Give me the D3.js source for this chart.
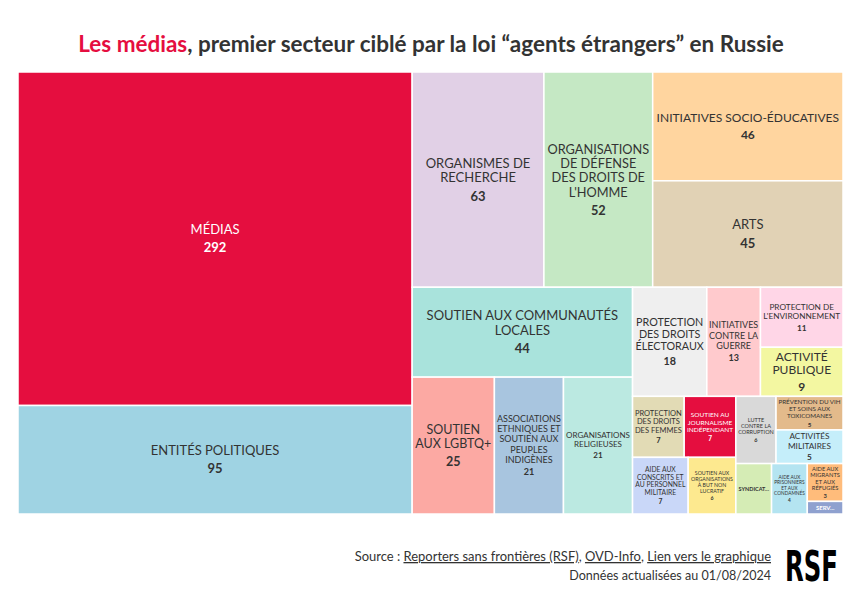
<!DOCTYPE html>
<html><head><meta charset="utf-8">
<script src="https://cdn.jsdelivr.net/npm/d3@7"></script>
<style>
body{margin:0;background:#fff;}
svg{display:block;font-family:Lato,"Source Sans Pro",sans-serif;}
</style>
</head><body>
<svg id="chart" width="850" height="591"></svg>
<script>
// ---------- data ----------
const categories = [
  "Médias",
  "Entités politiques",
  "Organismes de recherche",
  "Organisations de défense des droits de l'Homme",
  "Initiatives socio-éducatives",
  "Arts",
  "Soutien aux communautés locales",
  "Soutien aux LGBTQ+",
  "Associations ethniques et soutien aux peuples indigènes",
  "Organisations religieuses",
  "Protection des droits électoraux",
  "Initiatives contre la guerre",
  "Protection de l'environnement",
  "Activité publique",
  "Protection des droits des femmes",
  "Soutien au journalisme indépendant",
  "Aide aux conscrits et au personnel militaire",
  "Soutien aux organisations à but non lucratif",
  "Lutte contre la corruption",
  "Prévention du VIH et soins aux toxicomanes",
  "Activités militaires",
  "Syndicat...",
  "Aide aux prisonniers et aux condamnés",
  "Aide aux migrants et aux réfugiés",
  "Serv..."
];
const values = [292, 95, 63, 52, 46, 45, 44, 25, 21, 21, 18, 13, 11, 9, 7, 7, 7, 6, 6, 5, 5, 4, 4, 3, 1];
const colors = [
  "#e50e3f", "#9fd3e3", "#e1d0e6", "#c5e8c4", "#ffd59f", "#e1d2b5",
  "#a9e3dc", "#fca9a3", "#a8c5df", "#bbe9e1", "#efefef", "#ffcacd",
  "#ffd6e7", "#f3f7a1", "#e2dbb5", "#e50e3f", "#c9d7f8", "#fde98f",
  "#d9d9d9", "#e3ba8b", "#c5eefa", "#d5ecb5", "#b4e4f1", "#ffbc7b", "#8fa1cf"
];
const colorOf = {};
categories.forEach((c,i)=>{ colorOf[c] = colors[i]; });

const titleHighlight = "Les médias";
const titleRest = ", premier secteur ciblé par la loi “agents étrangers” en Russie";
const sourcePrefix = "Source : ";
const sourceLinks = ["Reporters sans frontières (RSF)", "OVD-Info", "Lien vers le graphique"];
const updateNote = "Données actualisées au 01/08/2024";
const logoText = "RSF";

// ---------- layout ----------
const svg = d3.select("#chart");
const box = {x0:18, y0:72, x1:843, y1:514};
const textDark = "#333333";

const root = d3.hierarchy({children: categories.map((c,i)=>({name:c, value:values[i]}))})
  .sum(d => d.value || 0)
  .sort((a,b) => b.value - a.value);
d3.treemap().tile(d3.treemapBinary).size([box.x1-box.x0, box.y1-box.y0])(root);

const measurer = svg.append("text").attr("visibility","hidden");
function tw(str, fs, weight){
  measurer.attr("font-size", fs).attr("font-weight", weight||400).text(str);
  return measurer.node().getComputedTextLength();
}
function wrap(words, fs, maxW){
  const lines=[]; let cur="";
  for(const w of words){
    if(tw(w,fs) > maxW) return null;
    const t = cur ? cur+" "+w : w;
    if(tw(t,fs) <= maxW) cur = t; else { lines.push(cur); cur = w; }
  }
  if(cur) lines.push(cur);
  return lines;
}
const LH = 1.13, VG = 1.4;
function tryFit(words, fs, w, h){
  const pad = Math.max(2, fs*0.22);
  const lines = wrap(words, fs, w-2*pad);
  if(!lines) return null;
  const span = (lines.length-1)*fs*LH + fs*VG;
  if(span + fs*1.05 > h-2*pad) return null;
  return {fs, lines, span};
}

const g = svg.append("g").attr("transform",`translate(${box.x0},${box.y0})`);
const cells = g.selectAll("g.cell").data(root.leaves()).join("g").attr("class","cell");
cells.append("rect")
  .attr("x", d=>d.x0).attr("y", d=>d.y0)
  .attr("width", d=>d.x1-d.x0).attr("height", d=>d.y1-d.y0)
  .attr("fill", d=>colorOf[d.data.name])
  .attr("stroke","#fff").attr("stroke-width",1.5);

cells.each(function(d){
  const sel = d3.select(this);
  const w = d.x1-d.x0, h = d.y1-d.y0;
  const cx = (d.x0+d.x1)/2, cy = (d.y0+d.y1)/2;
  const fill = colorOf[d.data.name];
  const col = d3.lab(fill).l < 70 ? "#ffffff" : textDark;
  const label = d.data.name.toUpperCase();
  if(label.endsWith("...")){
    let fs = 6;
    while(fs > 4 && tw(label, fs, 700) > w-4) fs -= 0.25;
    sel.append("text").attr("x",cx).attr("y",cy).attr("dy","0.35em")
      .attr("text-anchor","middle").attr("font-size",fs).attr("font-weight",700)
      .attr("fill",col).text(label);
    return;
  }
  const words = label.split(" ");
  let best = null;
  for(let fs=13; fs>=4.5; fs-=0.25){
    best = tryFit(words, fs, w, h);
    if(best) break;
  }
  if(!best) return;
  for(let fs=best.fs-0.25; fs>=best.fs*0.9; fs-=0.25){
    const c = tryFit(words, fs, w, h);
    if(c && c.lines.length < best.lines.length){ best = c; break; }
  }
  const {fs, lines, span} = best;
  const lh = fs*LH, vg = fs*VG;
  const top = cy - span/2;
  const t = sel.append("text").attr("text-anchor","middle").attr("font-size",fs).attr("fill",col);
  lines.forEach((ln,i)=>{
    t.append("tspan").attr("x",cx).attr("y",top+i*lh).attr("dy","0.35em").text(ln);
  });
  t.append("tspan").attr("x",cx).attr("y",top+(lines.length-1)*lh+vg).attr("dy","0.35em")
    .attr("font-weight",700).text(d.data.value);
});

// ---------- title ----------
const title = svg.append("text").attr("x",431).attr("y",52).attr("text-anchor","middle")
  .attr("font-weight",700).attr("font-size",20).attr("fill",textDark);
title.append("tspan").attr("fill","#e50e3f").text(titleHighlight);
title.append("tspan").text(titleRest);
{
  const wNow = title.node().getComputedTextLength();
  title.attr("font-size", 20*706/wNow);
}

// ---------- footer ----------
const f1 = svg.append("text").attr("x",771).attr("y",561).attr("text-anchor","end")
  .attr("font-size",13).attr("fill",textDark);
f1.append("tspan").text(sourcePrefix);
sourceLinks.forEach((s,i)=>{
  f1.append("tspan").style("text-decoration","underline").text(s);
  if(i<sourceLinks.length-1) f1.append("tspan").text(", ");
});
{
  const wNow = f1.node().getComputedTextLength();
  f1.attr("font-size", 13*417/wNow);
}
const f2 = svg.append("text").attr("x",771).attr("y",580).attr("text-anchor","end")
  .attr("font-size",13).attr("fill",textDark).text(updateNote);
{
  const wNow = f2.node().getComputedTextLength();
  f2.attr("font-size", 13*202/wNow);
}
const logo = svg.append("text").attr("x",0).attr("y",0)
  .attr("font-family","'Liberation Sans Narrow','DejaVu Sans Condensed','Liberation Sans',sans-serif")
  .attr("font-weight",700).attr("font-size",43).attr("fill","#000").text(logoText);
{
  const lw = logo.node().getComputedTextLength();
  logo.attr("transform",`translate(785,581) scale(${53/lw},1)`);
}
measurer.remove();
</script>
</body></html>
